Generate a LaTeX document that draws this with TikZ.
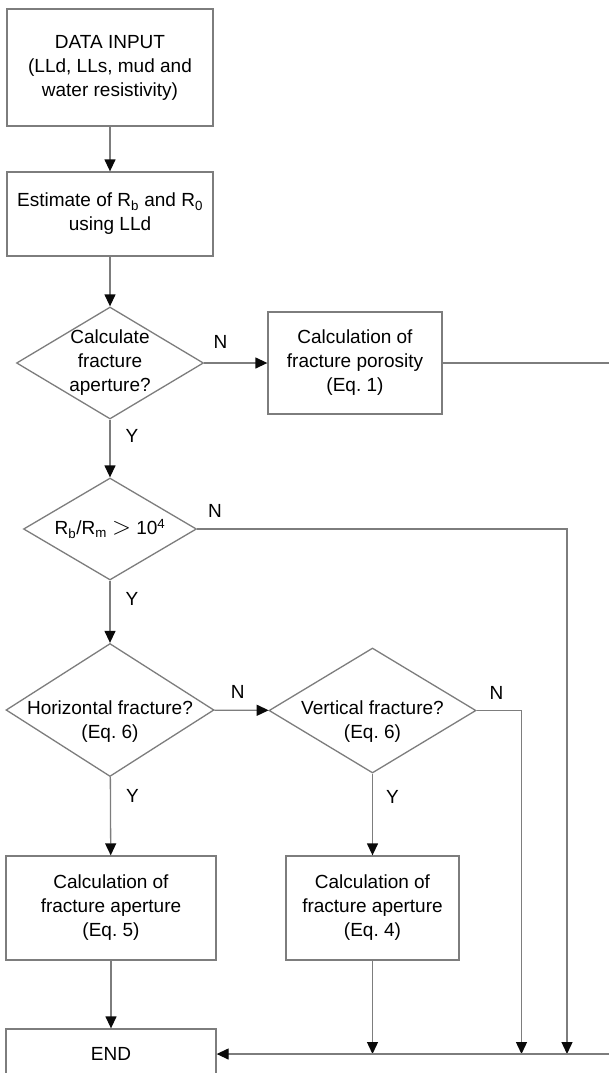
\documentclass[tikz,border=0pt]{standalone}
\usepackage{fontspec}
\setmainfont{Liberation Sans}
\usepackage{tikz}
\usetikzlibrary{arrows.meta,shapes.geometric}
\newcommand\chartfont{\fontsize{19}{24}\selectfont}
\newcommand\bigger{{\fontsize{25}{24}\selectfont$>$}}
\definecolor{line_gray}{RGB}{125,125,125}
\definecolor{tip_black}{RGB}{10,10,10}

\begin{document}
\begin{tikzpicture}[->,x=1pt,y=-1pt,>={Triangle[length=12pt,width=11pt,color=tip_black]},line width=1.3pt,draw=line_gray]
    \tikzstyle{node}=[draw=line_gray, fill=white, text=black, font=\chartfont, align=center, inner sep=0pt]
    \tikzstyle{box}=[style=node, rectangle]
    \tikzstyle{dec}=[style=node, diamond]
    \tikzstyle{lab}=[font=\chartfont, text=black, inner sep=0pt]
    \tikzset{every label/.style={font=\chartfont, text=black, align=center, inner sep=0pt}}

    \useasboundingbox (0,0) rectangle (609,1073);

    \node[box, minimum width=206pt, minimum height=117pt] (in)   at (110,67.5) {DATA INPUT\\(LLd, LLs, mud and\\water resistivity)};
    \node[box, minimum width=206pt, minimum height=84pt]  (est)  at (110,214)  {Estimate of R\textsubscript{b} and R\textsubscript{0}\\using LLd};
    \node[dec, minimum width=187pt, minimum height=112pt,
          label=center:{Calculate\\fracture\\aperture?}] (calc) at (110,363) {};
    \node[box, minimum width=174pt, minimum height=102pt] (poro) at (355,363)  {Calculation of\\fracture porosity\\(Eq.~1)};
    \node[dec, minimum width=173pt, minimum height=102pt,
          label=center:{R\textsubscript{b}/R\textsubscript{m} \bigger{} 10\textsuperscript{4}}] (ratio) at (110,529) {};
    \node[dec, minimum width=208pt, minimum height=133pt,
          label={[yshift=-11.5pt]center:Horizontal fracture?\\(Eq.~6)}] (horz) at (110,710) {};
    \node[dec, minimum width=207pt, minimum height=125pt,
          label={[yshift=-11pt]center:Vertical fracture?\\(Eq.~6)}] (vert) at (372.5,710.5) {};
    \node[box, minimum width=210pt, minimum height=104pt] (apt5) at (111,908)   {Calculation of\\fracture aperture\\(Eq.~5)};
    \node[box, minimum width=173pt, minimum height=104pt] (apt4) at (372.5,908) {Calculation of\\fracture aperture\\(Eq.~4)};
    \node[box, minimum width=210pt, minimum height=50pt]  (end)  at (111,1054)  {END};

    \coordinate (j4) at (372.5,1054);
    \coordinate (j3) at (521.5,1054);
    \coordinate (j2) at (567,1054);
    \coordinate (rb) at (640,1054);

    \path
     (in) edge (est)
     (est) edge (calc)
     (calc) edge node[lab,pos=0.26,yshift=21pt] {N} (poro)
     (calc) edge node[lab,pos=0.29,xshift=22pt] {Y} (ratio)
     (ratio) edge node[lab,pos=0.29,xshift=22pt] {Y} (horz)
     (horz) edge node[lab,pos=0.43,yshift=18pt] {N} (vert)
     (horz) edge node[lab,pos=0.24,xshift=22pt] {Y} (apt5)
     (vert) edge node[lab,pos=0.28,xshift=20pt] {Y} (apt4)
     (apt5) edge (end)
     (apt4) edge (j4)
     ;
    \draw (ratio.east) -| node[lab,pos=0.024,yshift=18pt] {N} (j2);
    \draw (vert.east) -| node[lab,pos=0.22,yshift=18pt] {N} (j3);
    \draw (poro.east) -| (rb) -- (end.east);
  \end{tikzpicture}
\end{document}
